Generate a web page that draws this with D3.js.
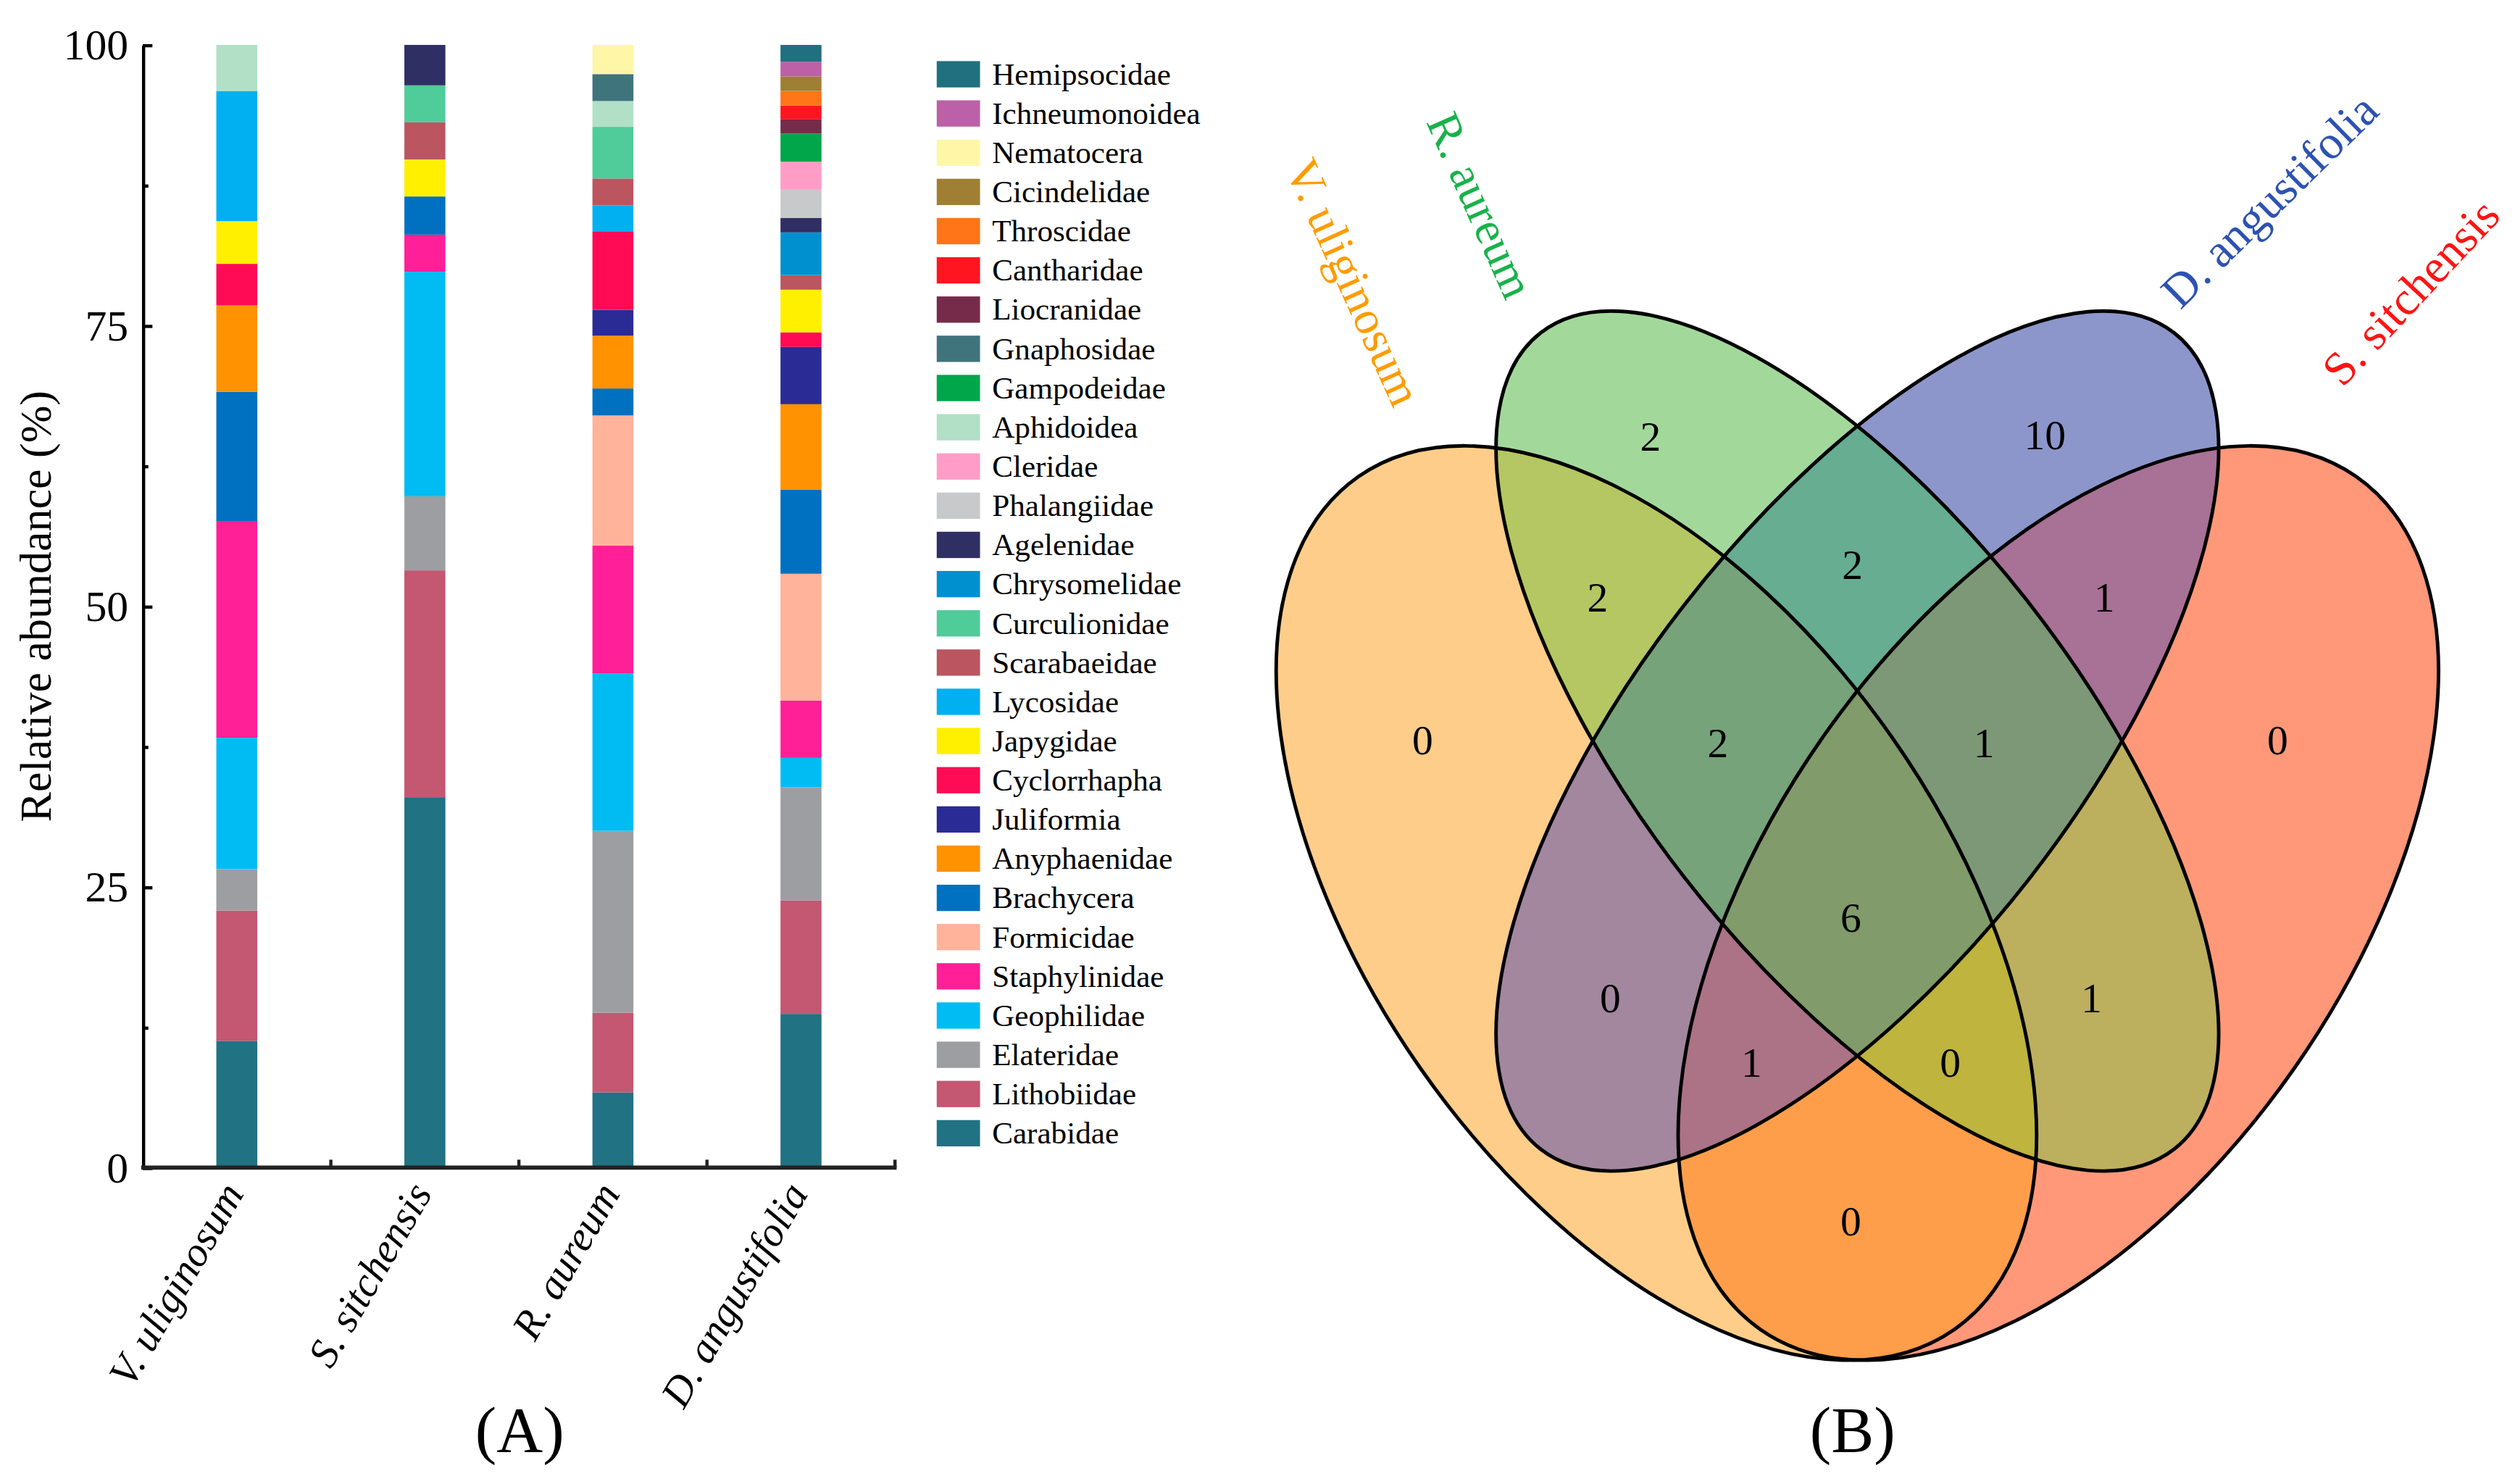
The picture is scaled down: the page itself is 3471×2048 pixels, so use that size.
<!DOCTYPE html>
<html>
<head>
<meta charset="utf-8">
<script src="https://cdn.jsdelivr.net/npm/d3@7"></script>
<style>
  body { margin: 0; background: #fff; }
  svg { display: block; }
</style>
</head>
<body>
<svg id="fig"></svg>
<script>
// ---- data ----
const species = ["V. uliginosum", "S. sitchensis", "R. aureum", "D. angustifolia"];

// stacking order, bottom to top
const families = ["Carabidae", "Lithobiidae", "Elateridae", "Geophilidae", "Staphylinidae",
  "Formicidae", "Brachycera", "Anyphaenidae", "Juliformia", "Cyclorrhapha", "Japygidae",
  "Lycosidae", "Scarabaeidae", "Curculionidae", "Chrysomelidae", "Agelenidae", "Phalangiidae",
  "Cleridae", "Aphidoidea", "Gampodeidae", "Gnaphosidae", "Liocranidae", "Cantharidae",
  "Throscidae", "Cicindelidae", "Nematocera", "Ichneumonoidea", "Hemipsocidae"];

// relative abundance (%) per family, same order as families
const vUliginosum   = [11.3, 11.6, 3.7, 11.7, 19.3, 0, 11.5, 7.7, 0, 3.7, 3.8, 11.6, 0, 0, 0, 0, 0, 0, 4.1, 0, 0, 0, 0, 0, 0, 0, 0, 0];
const sSitchensis   = [33.0, 20.2, 6.6, 20.0, 3.3, 0, 3.4, 0, 0, 0, 3.3, 0, 3.3, 3.3, 0, 3.6, 0, 0, 0, 0, 0, 0, 0, 0, 0, 0, 0, 0];
const rAureum       = [6.7, 7.1, 16.2, 14.0, 11.4, 11.6, 2.4, 4.7, 2.3, 7.0, 0, 2.3, 2.4, 4.6, 0, 0, 0, 0, 2.3, 0, 2.4, 0, 0, 0, 0, 2.6, 0, 0];
const dAngustifolia = [13.7, 10.1, 10.1, 2.6, 5.1, 11.3, 7.5, 7.6, 5.1, 1.3, 3.8, 0, 1.3, 0, 3.8, 1.3, 2.5, 2.5, 0, 2.5, 0, 1.3, 1.2, 1.3, 1.3, 0, 1.3, 1.5];

const yTicks = [0, 25, 50, 75, 100];

// Venn: sets and shared family counts per region
const vennSets = ["V. uliginosum", "R. aureum", "D. angustifolia", "S. sitchensis"];
const regionKeys   = ["V", "R", "D", "S", "VR", "RD", "DS", "VRD", "RDS", "VRDS", "VD", "RS", "VDS", "VRS", "VS"];
const regionCounts = [0, 2, 10, 0, 2, 2, 1, 2, 1, 6, 0, 1, 1, 0, 0];

// ---- styles ----
const familyColors = ["#217283", "#C45772", "#9D9EA2", "#00BCF2", "#FF1F96",
  "#FFB39A", "#0070C0", "#FF9200", "#2B2B95", "#FF0A55", "#FFF000",
  "#00B0F0", "#BB5560", "#50CB9A", "#0090D0", "#2F2F64", "#C8C9CA",
  "#FF9DC6", "#B1E0C7", "#00A649", "#40747C", "#772B4A", "#FF1520",
  "#FF7518", "#9E7F33", "#FFF6A8", "#BC60A8", "#21707F"];
const regionColors = ["#FECD8A", "#A3D89B", "#8D96CB", "#FE9878", "#B4C762", "#66AD91", "#A87196",
  "#77A37A", "#7D9877", "#819B6B", "#A2879E", "#BCAF5E", "#AB7385", "#BEB43E", "#FE9E4A"];
const setColors = ["#FF9C00", "#19B24A", "#2E52B2", "#FF1414"];
const serif = "'Liberation Serif', 'Times New Roman', serif";

// ---- canvas ----
const W = 1568, H = 925.2;
const svg = d3.select("#fig")
  .attr("width", 3471).attr("height", 2048)
  .attr("viewBox", `0 0 ${W} ${H}`);

// ================= (A) stacked bars =================
const plot = { left: 89, right: 558, top: 28, bottom: 728 };

const xScale = d3.scaleBand()
  .domain(species)
  .range([plot.left, plot.right])
  .paddingInner(0.782)
  .paddingOuter(0.391);

const yScale = d3.scaleLinear()
  .domain([0, 100])
  .range([plot.bottom, plot.top]);

const colorScale = d3.scaleOrdinal().domain(families).range(familyColors);

const columns = [vUliginosum, sSitchensis, rAureum, dAngustifolia];
const table = species.map((s, i) => {
  const row = { species: s };
  families.forEach((f, j) => { row[f] = columns[i][j]; });
  return row;
});

const series = d3.stack().keys(families)(table);

svg.append("g")
  .selectAll("g")
  .data(series)
  .enter()
  .append("g")
  .attr("fill", d => colorScale(d.key))
  .selectAll("rect")
  .data(d => d.filter(p => p[1] - p[0] > 0))
  .enter()
  .append("rect")
  .attr("x", d => xScale(d.data.species))
  .attr("y", d => yScale(d[1]))
  .attr("width", xScale.bandwidth())
  .attr("height", d => yScale(d[0]) - yScale(d[1]));

// y axis, ticks pointing inward
const yAxis = svg.append("g")
  .attr("transform", `translate(${plot.left},0)`)
  .call(d3.axisLeft(yScale).tickValues(yTicks).tickSize(-6).tickSizeOuter(0).tickPadding(9))
  .attr("font-family", serif)
  .attr("font-size", 27);
yAxis.select(".domain").attr("stroke-width", 2);
yAxis.selectAll(".tick line").attr("stroke-width", 2);
yAxis.selectAll(".tick text").attr("fill", "#000");

const yMinor = svg.append("g")
  .attr("transform", `translate(${plot.left},0)`)
  .call(d3.axisLeft(yScale).tickValues([12.5, 37.5, 62.5, 87.5]).tickSize(-3.5).tickFormat(() => ""));
yMinor.select(".domain").remove();
yMinor.selectAll(".tick line").attr("stroke-width", 2);

// x axis line and boundary ticks
svg.append("line")
  .attr("x1", plot.left - 1).attr("x2", plot.right + 1)
  .attr("y1", yScale(0)).attr("y2", yScale(0))
  .attr("stroke", "#222").attr("stroke-width", 2.6);

svg.append("g")
  .selectAll("line")
  .data(species)
  .enter()
  .append("line")
  .attr("x1", d => xScale(d) + xScale.bandwidth() / 2 + xScale.step() / 2)
  .attr("x2", d => xScale(d) + xScale.bandwidth() / 2 + xScale.step() / 2)
  .attr("y1", yScale(0))
  .attr("y2", yScale(0) - 5)
  .attr("stroke", "#222").attr("stroke-width", 2);

svg.append("g")
  .selectAll("text")
  .data(species)
  .enter()
  .append("text")
  .attr("transform", d => `translate(${xScale(d) + xScale.bandwidth() / 2 + 5},${yScale(0) + 16}) rotate(-60)`)
  .attr("text-anchor", "end")
  .attr("font-family", serif)
  .attr("font-style", "italic")
  .attr("font-size", 26)
  .text(d => d);

svg.append("text")
  .attr("transform", `translate(22,${(plot.top + plot.bottom) / 2}) rotate(-90)`)
  .attr("text-anchor", "middle")
  .attr("dominant-baseline", "central")
  .attr("font-family", serif)
  .attr("font-size", 28)
  .text("Relative abundance (%)");

svg.append("text")
  .attr("x", 324).attr("y", 905)
  .attr("text-anchor", "middle")
  .attr("font-family", serif)
  .attr("font-size", 40)
  .text("(A)");

// legend, top to bottom
const legendFamilies = families.slice().reverse();
const legendY = d3.scalePoint()
  .domain(legendFamilies)
  .range([46.3, 706.5]);

const legend = svg.append("g")
  .selectAll("g")
  .data(legendFamilies)
  .enter()
  .append("g")
  .attr("transform", d => `translate(584,${legendY(d)})`);

legend.append("rect")
  .attr("x", 0).attr("y", -8.2)
  .attr("width", 27).attr("height", 16.4)
  .attr("fill", d => colorScale(d));

legend.append("text")
  .attr("x", 34.5).attr("y", 0)
  .attr("dy", "0.33em")
  .attr("font-family", serif)
  .attr("font-size", 19.5)
  .text(d => d);

// ================= (B) Venn =================
// ellipse geometry: centre, semi-axes, rotation (deg)
const ellipses = [
  { cx: 1032.7, cy: 563, rx: 324.3, ry: 179.6, rot: 55.05 },
  { cx: 1158, cy: 462, rx: 322.1, ry: 137.3, rot: 52.2 },
  { cx: 1158, cy: 462, rx: 322.1, ry: 137.3, rot: -52.2 },
  { cx: 1283.3, cy: 563, rx: 324.3, ry: 179.6, rot: -55.05 }
];
const letters = ["V", "R", "D", "S"];

// label anchors for region counts and set names (layout)
const regionLabelPos = [[887, 461], [1029, 272], [1275, 271], [1420, 461], [996, 372], [1155, 352],
  [1312, 372], [1071, 463], [1237, 463], [1154, 572], [1004, 622], [1304, 622], [1092, 662],
  [1216, 662], [1154, 761]];
const setLabelPos = [[844, 176, 65.7], [923, 128, 66], [1415, 125, -44.5], [1503, 182, -47]];

const defs = svg.append("defs");
const shape = (sel, e) => sel
  .attr("cx", e.cx).attr("cy", e.cy)
  .attr("rx", e.rx).attr("ry", e.ry)
  .attr("transform", `rotate(${e.rot},${e.cx},${e.cy})`);

ellipses.forEach((e, i) => {
  defs.append("clipPath").attr("id", "vclip" + i)
    .append("ellipse").call(shape, e);
});

const box = { x: 700, y: 150, w: 900, h: 750 };

regionKeys.forEach((key, k) => {
  const inside = letters.map((l, i) => key.includes(l) ? i : -1).filter(i => i >= 0);
  const outside = letters.map((l, i) => key.includes(l) ? -1 : i).filter(i => i >= 0);

  const mask = defs.append("mask").attr("id", "vmask" + k)
    .attr("maskUnits", "userSpaceOnUse")
    .attr("x", box.x).attr("y", box.y).attr("width", box.w).attr("height", box.h);
  mask.append("rect")
    .attr("x", box.x).attr("y", box.y).attr("width", box.w).attr("height", box.h)
    .attr("fill", "#fff");
  outside.forEach(i => mask.append("ellipse").call(shape, ellipses[i]).attr("fill", "#000"));

  let g = svg.append("g");
  inside.forEach(i => { g = g.append("g").attr("clip-path", `url(#vclip${i})`); });
  g.append("rect")
    .attr("x", box.x).attr("y", box.y).attr("width", box.w).attr("height", box.h)
    .attr("fill", regionColors[k])
    .attr("mask", `url(#vmask${k})`);
});

svg.append("g")
  .selectAll("ellipse")
  .data(ellipses)
  .enter()
  .append("ellipse")
  .each(function (e) { d3.select(this).call(shape, e); })
  .attr("fill", "none")
  .attr("stroke", "#000")
  .attr("stroke-width", 2.2);

svg.append("g")
  .selectAll("text")
  .data(regionCounts)
  .enter()
  .append("text")
  .attr("x", (d, i) => regionLabelPos[i][0])
  .attr("y", (d, i) => regionLabelPos[i][1])
  .attr("dy", "0.35em")
  .attr("text-anchor", "middle")
  .attr("font-family", serif)
  .attr("font-size", 26)
  .text(d => d);

svg.append("g")
  .selectAll("text")
  .data(vennSets)
  .enter()
  .append("text")
  .attr("transform", (d, i) => `translate(${setLabelPos[i][0]},${setLabelPos[i][1]}) rotate(${setLabelPos[i][2]})`)
  .attr("text-anchor", "middle")
  .attr("dominant-baseline", "central")
  .attr("font-family", serif)
  .attr("font-size", 29.5)
  .attr("fill", (d, i) => setColors[i])
  .text(d => d);

svg.append("text")
  .attr("x", 1155).attr("y", 905)
  .attr("text-anchor", "middle")
  .attr("font-family", serif)
  .attr("font-size", 40)
  .text("(B)");
</script>
</body>
</html>
